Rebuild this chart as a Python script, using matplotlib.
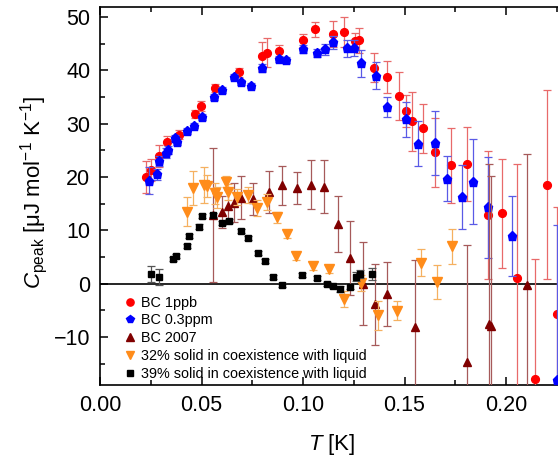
import matplotlib
matplotlib.use("Agg")
import matplotlib.pyplot as plt
from matplotlib.lines import Line2D
from matplotlib.ticker import MultipleLocator
import numpy as np

plt.rcParams['font.family'] = ['Liberation Sans', 'DejaVu Sans']
plt.rcParams['mathtext.fontset'] = 'custom'
plt.rcParams['mathtext.rm'] = 'Liberation Sans'
plt.rcParams['mathtext.it'] = 'Liberation Sans:italic'

# ---- data ----
bc1_T = [0.0225, 0.025, 0.029, 0.0332, 0.0389, 0.0468, 0.0498, 0.0567, 0.0686, 0.0796,
         0.0821, 0.0883, 0.1002, 0.1059, 0.1149, 0.1204, 0.1256, 0.1278, 0.135, 0.1415,
         0.1475, 0.1507, 0.1537, 0.1593, 0.165, 0.1729, 0.1809, 0.191, 0.1979, 0.2053,
         0.2143, 0.2204, 0.2253]
bc1_C = [20.0, 21.3, 23.9, 26.5, 27.9, 31.8, 33.3, 36.7, 39.6, 42.6,
         43.3, 43.6, 45.6, 47.7, 46.8, 47.1, 45.4, 45.6, 40.5, 38.7,
         35.2, 32.4, 30.4, 29.1, 24.6, 22.2, 22.4, 12.9, 13.2, 1.0,
         -17.8, 18.5, -5.6]
bc1_err = [3.0, 2.0, 2.0, 1.2, 0.8, 0.8, 1.0, 0.8, 0.8, 2.7,
           2.7, 1.2, 1.2, 1.4, 2.5, 2.8, 1.5, 2.3, 2.8, 3.0,
           4.5, 3.0, 5.6, 4.6, 6.4, 7.0, 7.0, 12.0, 10.2, 21.5,
           22.5, 17.7, 20.0]

bc03_T = [0.0241, 0.0282, 0.029, 0.0323, 0.0337, 0.0369, 0.0381, 0.0427, 0.0463, 0.0504,
          0.0563, 0.0603, 0.066, 0.0695, 0.0742, 0.0796, 0.0883, 0.0915, 0.1002, 0.1067,
          0.1108, 0.1149, 0.1215, 0.1251, 0.1284, 0.1358, 0.1415, 0.1507, 0.1568, 0.165,
          0.1708, 0.1785, 0.1836, 0.191, 0.2031, 0.2253]
bc03_C = [19.3, 20.5, 23.0, 24.5, 25.0, 27.2, 26.6, 28.6, 29.6, 31.2,
          35.0, 36.3, 38.8, 37.7, 37.1, 40.4, 42.1, 41.9, 44.0, 43.2,
          43.9, 45.2, 44.1, 44.2, 41.3, 39.0, 33.1, 30.8, 26.2, 26.4,
          19.7, 16.2, 19.1, 14.3, 8.9, -18.0]
bc03_err = [2.5, 1.0, 1.0, 1.0, 0.8, 0.6, 0.6, 0.5, 0.5, 0.5,
            0.5, 0.5, 0.5, 0.5, 0.5, 0.8, 0.6, 0.6, 0.8, 0.8,
            1.0, 1.2, 1.6, 1.5, 2.5, 2.5, 1.8, 3.3, 4.2, 6.0,
            4.3, 6.0, 8.0, 9.5, 7.5, 29.0]

bc07_T = [0.0555, 0.06, 0.0629, 0.066, 0.0695, 0.0755, 0.0833, 0.0898, 0.0972, 0.104,
          0.1103, 0.1171, 0.1232, 0.1294, 0.1355, 0.1412, 0.1552, 0.1809, 0.1916, 0.1926,
          0.2105]
bc07_C = [12.9, 13.4, 14.6, 15.2, 16.1, 15.9, 17.2, 18.4, 17.9, 18.5,
          18.2, 11.2, 4.8, 0.0, -3.9, -2.0, -8.2, -14.7, -7.5, -7.9,
          -0.3]
bc07_err = [12.6, 3.0, 3.0, 3.7, 4.0, 3.0, 4.0, 3.6, 3.0, 4.6,
            5.0, 5.2, 7.0, 7.8, 7.6, 6.0, 12.6, 22.0, 30.0, 28.0,
            24.6]

s32_T = [0.043, 0.046, 0.0512, 0.0525, 0.0567, 0.0575, 0.0619, 0.0629, 0.0673, 0.0731,
         0.0772, 0.0824, 0.0874, 0.0923, 0.0966, 0.1051, 0.1128, 0.1202, 0.1286, 0.1371,
         0.1461, 0.158, 0.1659, 0.1732]
s32_C = [13.5, 18.0, 18.5, 18.3, 16.9, 16.2, 19.1, 17.1, 16.3, 16.6,
         14.1, 15.3, 12.4, 9.3, 5.2, 3.3, 2.7, -2.8, 0.2, -5.9,
         -5.1, 3.9, 0.3, 7.0]
s32_err = [2.7, 3.2, 3.4, 2.0, 2.0, 2.0, 1.0, 1.5, 1.5, 1.5,
           1.5, 1.5, 1.0, 0.8, 0.8, 0.8, 0.8, 1.5, 1.5, 2.7,
           1.8, 2.5, 3.2, 3.3]

s39_T = [0.0251, 0.0291, 0.0361, 0.0374, 0.0427, 0.044, 0.0489, 0.0501, 0.0555, 0.06,
         0.0635, 0.0695, 0.0731, 0.078, 0.0813, 0.0851, 0.0898, 0.0997, 0.1067, 0.112,
         0.1149, 0.1182, 0.1232, 0.1261, 0.1281, 0.1338]
s39_C = [1.8, 1.2, 4.6, 5.2, 7.1, 8.9, 10.7, 12.7, 12.9, 11.4,
         11.7, 9.9, 8.6, 5.7, 4.3, 1.3, -0.3, 1.6, 1.0, -0.1,
         -0.5, -1.0, -0.6, 1.3, 1.8, 1.8]
s39_err = [1.5, 1.5, 0.4, 0.4, 0.4, 0.4, 0.4, 0.4, 0.4, 0.4,
           0.4, 0.4, 0.4, 0.4, 0.4, 0.4, 0.4, 0.4, 0.4, 0.4,
           0.4, 0.5, 0.5, 0.8, 0.8, 1.2]

labels = ["BC 1ppb", "BC 0.3ppm", "BC 2007",
          "32% solid in coexistence with liquid",
          "39% solid in coexistence with liquid"]

# ---- plot ----
fig = plt.figure(figsize=(5.58, 4.58), dpi=100)
ax = fig.add_axes([100/558, 1-385/458, 458/558, (385-6.7)/458])

series = [
    (bc1_T, bc1_C, bc1_err, 'o', '#FF0000', '#E86A6A', 5.6, 5.2),
    (bc03_T, bc03_C, bc03_err, 'p', '#0000FF', '#5A5AE6', 6.6, 6.0),
    (bc07_T, bc07_C, bc07_err, '^', '#800000', '#A65A5A', 6.2, 5.6),
    (s32_T, s32_C, s32_err, 'v', '#FF8C1A', '#F5B060', 7.6, 6.0),
    (s39_T, s39_C, s39_err, 's', '#000000', '#555555', 4.9, 4.4),
]
handles = []
for i, (T, C, E, m, col, ecol, ms, lms) in enumerate(series):
    ax.errorbar(T, C, yerr=E, fmt=m, color=col, ms=ms, mec=col, mfc=col,
                ecolor=ecol, elinewidth=0.9, capsize=3, capthick=0.9,
                zorder=3 + i, clip_on=True)
    handles.append(Line2D([], [], ls='none', marker=m, color=col, ms=lms))

ax.axhline(0, color='black', lw=1.2, zorder=2)

ax.set_xlim(0, 458/2030)
ax.set_ylim(-19.0, 51.9)
ax.xaxis.set_major_locator(MultipleLocator(0.05))
ax.xaxis.set_minor_locator(MultipleLocator(0.025))
ax.yaxis.set_major_locator(MultipleLocator(10))
ax.yaxis.set_minor_locator(MultipleLocator(5))
ax.xaxis.set_major_formatter(plt.FuncFormatter(lambda v, p: f"{v:.2f}"))
ax.tick_params(which='both', direction='in', top=True, right=False, width=1.1)
ax.tick_params(which='major', length=6, labelsize=15.5, pad=7)
ax.tick_params(which='minor', length=3.5)
ax.spines['right'].set_visible(False)
for s in ['left', 'top', 'bottom']:
    ax.spines[s].set_linewidth(1.2)

ax.set_xlabel(r'$T$ [K]', fontsize=16)
ax.xaxis.set_label_coords(0.507, -0.125)
ax.set_ylabel(r'$C_{\mathrm{peak}}$ [μJ mol$^{-1}$ K$^{-1}$]', fontsize=16)
ax.yaxis.set_label_coords(-0.11, 0.51)

ax.legend(handles, labels, loc='lower left', bbox_to_anchor=(0.040, -0.004),
          frameon=False, fontsize=10.4, handlelength=0.8, handletextpad=0.4,
          labelspacing=0.26, borderaxespad=0.0, borderpad=0.4)

fig.savefig("out.png", dpi=100)
